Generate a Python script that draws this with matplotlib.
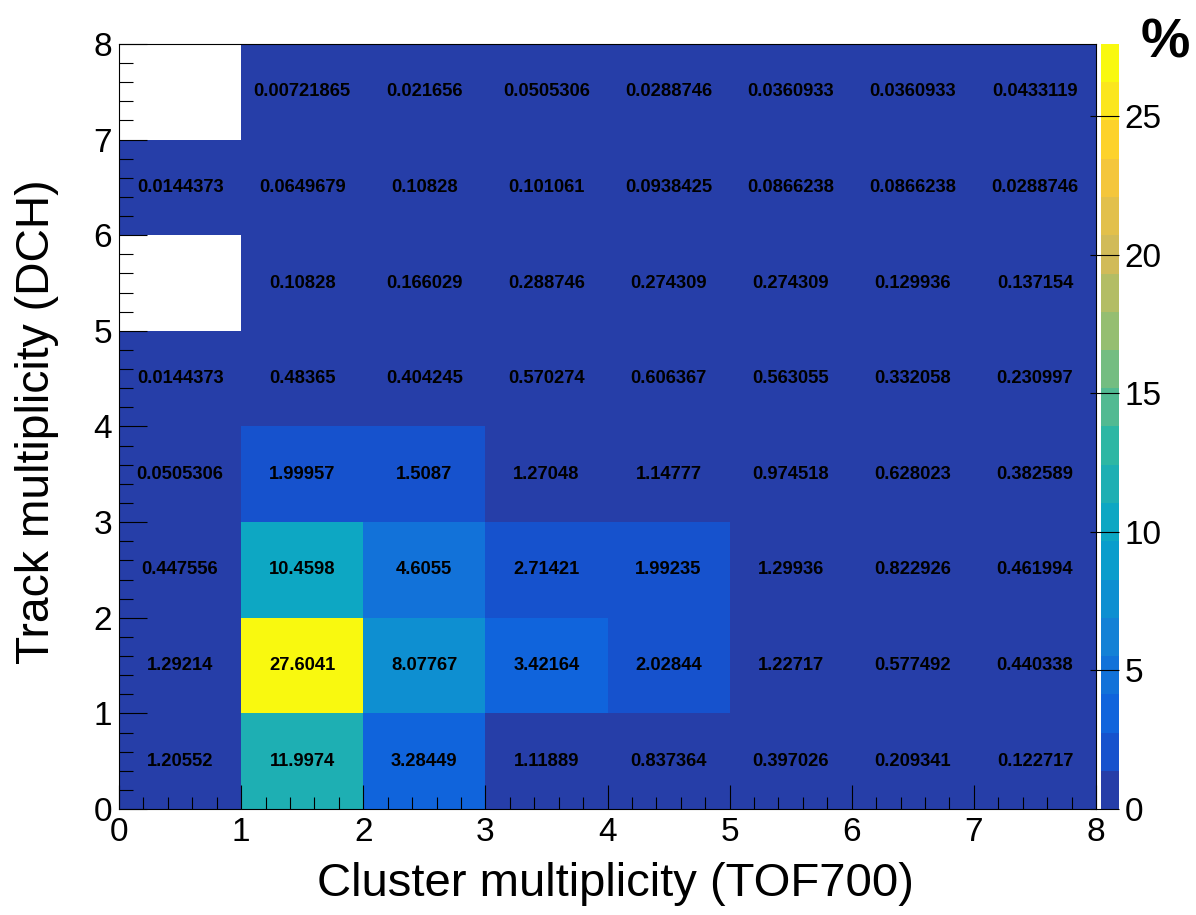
import numpy as np
import matplotlib
matplotlib.use("Agg")
import matplotlib.pyplot as plt
from matplotlib.colors import ListedColormap, BoundaryNorm
from matplotlib.ticker import MultipleLocator

plt.rcParams['font.family'] = ['Liberation Sans', 'DejaVu Sans']

# Bin edges: cluster multiplicity (TOF700) on x, track multiplicity (DCH) on y
x_edges = [0, 1, 2, 3, 4, 5, 6, 7, 8]
y_edges = [0, 1, 2, 3, 4, 5, 6, 7, 8]

# Fraction of events (%) per bin, one list per track-multiplicity bin (x = 0..7)
tracks_0 = [1.20552, 11.9974, 3.28449, 1.11889, 0.837364, 0.397026, 0.209341, 0.122717]
tracks_1 = [1.29214, 27.6041, 8.07767, 3.42164, 2.02844, 1.22717, 0.577492, 0.440338]
tracks_2 = [0.447556, 10.4598, 4.6055, 2.71421, 1.99235, 1.29936, 0.822926, 0.461994]
tracks_3 = [0.0505306, 1.99957, 1.5087, 1.27048, 1.14777, 0.974518, 0.628023, 0.382589]
tracks_4 = [0.0144373, 0.48365, 0.404245, 0.570274, 0.606367, 0.563055, 0.332058, 0.230997]
tracks_5 = [0.0, 0.10828, 0.166029, 0.288746, 0.274309, 0.274309, 0.129936, 0.137154]
tracks_6 = [0.0144373, 0.0649679, 0.10828, 0.101061, 0.0938425, 0.0866238, 0.0866238, 0.0288746]
tracks_7 = [0.0, 0.00721865, 0.021656, 0.0505306, 0.0288746, 0.0360933, 0.0360933, 0.0433119]

x_ticks = [0, 1, 2, 3, 4, 5, 6, 7, 8]
y_ticks = [0, 1, 2, 3, 4, 5, 6, 7, 8]
z_ticks = [0, 5, 10, 15, 20, 25]

z = np.array([tracks_0, tracks_1, tracks_2, tracks_3,
              tracks_4, tracks_5, tracks_6, tracks_7])
z_masked = np.ma.masked_equal(z, 0.0)


# ROOT "kBird" palette: 255-colour gradient table, sampled for 20 contours
def bird_palette(n_colors=255, n_levels=20):
    stops = [0.0, 0.125, 0.25, 0.375, 0.5, 0.625, 0.75, 0.875, 1.0]
    red = [0.2082, 0.0592, 0.0780, 0.0232, 0.1802, 0.5301, 0.8186, 0.9956, 0.9764]
    green = [0.1664, 0.3599, 0.5041, 0.6419, 0.7178, 0.7492, 0.7328, 0.7862, 0.9832]
    blue = [0.5293, 0.8684, 0.8385, 0.7914, 0.6425, 0.4662, 0.3499, 0.1968, 0.0539]
    table = []
    for g in range(1, len(stops)):
        n = int(np.floor(n_colors * stops[g]) - np.floor(n_colors * stops[g - 1]))
        for c in range(n):
            table.append((red[g - 1] + c * (red[g] - red[g - 1]) / n,
                          green[g - 1] + c * (green[g] - green[g - 1]) / n,
                          blue[g - 1] + c * (blue[g] - blue[g - 1]) / n))
    table = table[:n_colors]
    cols = [table[min(int((i + 0.99) * n_colors / n_levels), n_colors - 1)]
            for i in range(n_levels)]
    return ListedColormap(cols)


n_levels = 20
zmax = z.max()
levels = np.linspace(0.0, zmax, n_levels + 1)
cmap = bird_palette(255, n_levels)
norm = BoundaryNorm(levels, n_levels)

W, H = 1196, 915
fig = plt.figure(figsize=(W / 100, H / 100), dpi=100)

left, right, top, bottom = 119, 1096, 44, 809
ax = fig.add_axes([left / W, 1 - bottom / H, (right - left) / W, (bottom - top) / H])

mesh = ax.pcolormesh(x_edges, y_edges, z_masked, cmap=cmap, norm=norm,
                     shading='flat', edgecolors='none', antialiased=False)

# Bin contents printed at bin centres
xc = 0.5 * (np.array(x_edges[:-1]) + np.array(x_edges[1:]))
yc = 0.5 * (np.array(y_edges[:-1]) + np.array(y_edges[1:]))
for j in range(z.shape[0]):
    for i in range(z.shape[1]):
        if z[j, i] != 0:
            ax.text(xc[i], yc[j], format(z[j, i], 'g'), ha='center', va='center',
                    fontsize=13.2, fontweight='bold', color='black')

ax.set_xlim(x_edges[0], x_edges[-1])
ax.set_ylim(y_edges[0], y_edges[-1])
ax.set_xticks(x_ticks)
ax.set_yticks(y_ticks)
ax.xaxis.set_minor_locator(MultipleLocator(0.2))
ax.yaxis.set_minor_locator(MultipleLocator(0.2))
ax.tick_params(which='both', direction='in', top=False, right=False, width=0.8, color='black')
ax.tick_params(axis='x', which='major', length=17, labelsize=24, pad=6)
ax.tick_params(axis='x', which='minor', length=9)
ax.tick_params(axis='y', which='major', length=20, labelsize=24, pad=5)
ax.tick_params(axis='y', which='minor', length=10)
for s in ax.spines.values():
    s.set_linewidth(0.8)
    s.set_color('black')
    s.set_zorder(5)

fig.text(615 / W, 1 - 884 / H, 'Cluster multiplicity (TOF700)', ha='center', va='center', fontsize=34)
fig.text(37 / W, 1 - 422 / H, 'Track multiplicity (DCH)', ha='center', va='center',
         rotation=90, fontsize=33.3)

# Colour scale
cax = fig.add_axes([1101 / W, 1 - bottom / H, 18 / W, (bottom - top) / H])
cb = fig.colorbar(mesh, cax=cax, spacing='proportional')
cb.outline.set_visible(False)
cb.set_ticks(z_ticks)
cb.ax.yaxis.set_minor_locator(matplotlib.ticker.NullLocator())
cb.ax.tick_params(direction='in', length=21, width=0.8, labelsize=24, pad=4, color='black')

fig.text(1165 / W, 1 - 44 / H, '%', ha='center', va='center', fontsize=40, fontweight='bold')

fig.savefig('out.png', dpi=100)
